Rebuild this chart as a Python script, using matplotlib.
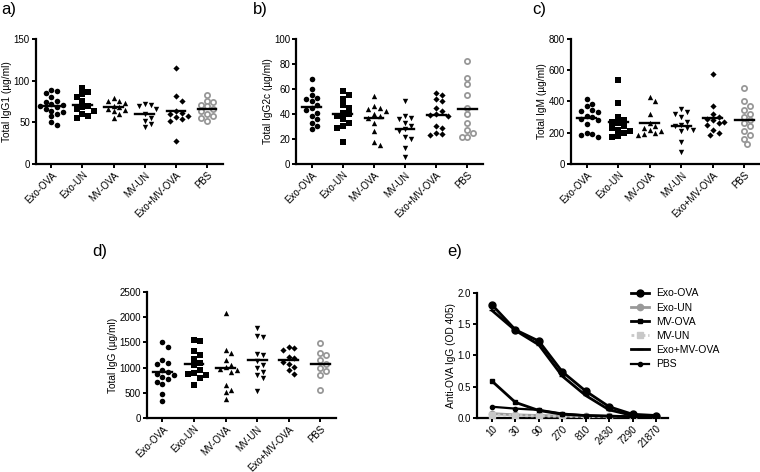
import numpy as np
import matplotlib
matplotlib.use("Agg")
import matplotlib.pyplot as plt

plt.rcParams['font.family'] = ['Liberation Sans', 'DejaVu Sans']

groups = ["Exo-OVA", "Exo-UN", "MV-OVA", "MV-UN", "Exo+MV-OVA", "PBS"]

# a) total IgG1
igg1 = [
    [88, 85, 89, 80, 76, 74, 72, 71, 70, 68, 66, 64, 62, 60, 57, 50, 47],
    [91, 86, 84, 80, 75, 70, 68, 66, 64, 60, 57, 55],
    [79, 76, 75, 73, 70, 68, 66, 65, 63, 60, 55],
    [72, 71, 69, 66, 60, 55, 52, 48, 44],
    [115, 82, 76, 63, 61, 60, 58, 56, 54, 52, 28],
    [83, 76, 74, 71, 69, 66, 63, 60, 58, 55, 51],
]
# b) total IgG2c
igg2c = [
    [68, 60, 55, 53, 52, 50, 47, 45, 43, 41, 38, 36, 33, 30, 28],
    [58, 55, 52, 47, 45, 41, 40, 38, 36, 33, 30, 29, 18],
    [54, 46, 45, 44, 42, 40, 38, 37, 33, 26, 18, 15],
    [50, 38, 37, 36, 33, 30, 28, 26, 22, 20, 13, 6],
    [57, 55, 52, 50, 45, 42, 40, 39, 38, 30, 29, 25, 24, 23],
    [82, 69, 64, 55, 45, 40, 33, 27, 25, 22, 22],
]
# c) total IgM
igm = [
    [415, 385, 370, 345, 340, 335, 310, 300, 290, 280, 255, 200, 195, 185, 170],
    [535, 390, 300, 280, 270, 260, 240, 230, 220, 210, 200, 180, 175],
    [430, 400, 320, 260, 240, 230, 220, 210, 200, 190, 185],
    [350, 330, 320, 300, 270, 250, 240, 230, 220, 210, 140, 80],
    [575, 370, 320, 300, 290, 280, 270, 260, 250, 220, 200, 185],
    [485, 400, 370, 345, 320, 300, 280, 260, 240, 210, 185, 160, 125],
]
# d) total IgG
igg = [
    [1500, 1400, 1150, 1100, 1080, 950, 920, 880, 850, 820, 780, 720, 670, 470, 340],
    [1550, 1530, 1330, 1250, 1180, 1100, 1050, 950, 900, 870, 850, 800, 650],
    [2080, 1350, 1280, 1150, 1050, 1020, 980, 950, 920, 650, 550, 520, 380],
    [1795, 1635, 1615, 1270, 1250, 1137, 1050, 984, 918, 851, 798, 538],
    [1416, 1383, 1350, 1217, 1184, 1117, 1070, 1017, 951, 871],
    [1496, 1296, 1250, 1150, 1070, 984, 938, 851, 552],
]

# e) anti-OVA titration
dilutions = ["10", "30", "90", "270", "810", "2430", "7290", "21870"]
od_exo_ova = [1.81, 1.41, 1.23, 0.74, 0.43, 0.18, 0.06, 0.04]
od_exo_un = [0.07, 0.05, 0.04, 0.03, 0.03, 0.03, 0.02, 0.02]
od_mv_ova = [0.59, 0.25, 0.12, 0.06, 0.04, 0.03, 0.02, 0.02]
od_mv_un = [0.05, 0.04, 0.03, 0.03, 0.02, 0.02, 0.02, 0.02]
od_exo_mv_ova = [1.72, 1.40, 1.17, 0.67, 0.36, 0.13, 0.04, 0.03]
od_pbs = [0.18, 0.15, 0.13, 0.07, 0.04, 0.03, 0.02, 0.02]


def swarm(vals, ymax, hpx=125.0, sp=31.2, dia=5.8):
    vals = np.asarray(vals, float)
    ys = vals / ymax * hpx
    xs = np.zeros(len(vals))
    done = []
    for i in np.argsort(-vals):
        for k in range(60):
            off = ((k + 1) // 2) * (1 if k % 2 else -1) * dia * 0.5
            if all((off - xs[j]) ** 2 + (ys[i] - ys[j]) ** 2 >= dia ** 2 for j in done):
                xs[i] = off
                break
        done.append(i)
    return xs / sp


def style_ax(ax):
    for s in ("top", "right"):
        ax.spines[s].set_visible(False)
    for s in ("left", "bottom"):
        ax.spines[s].set_linewidth(1.6)
    ax.tick_params(width=1.4, length=3, labelsize=7.0, pad=1.2)


def scatter_panel(ax, data, ymax, step, ylabel):
    for i, vals in enumerate(data):
        xo = swarm(vals, ymax)
        mk = ["o", "s", "^", "v", "D", "o"][i]
        sz = [16, 14, 15, 15, 10, 14][i]
        if i == 5:
            ax.scatter(i + xo, vals, s=sz, facecolor="white", edgecolor="#999999",
                       linewidth=1.3, zorder=3, clip_on=False)
        else:
            ax.scatter(i + xo, vals, s=sz, marker=mk, color="black", linewidth=0,
                       zorder=3, clip_on=False)
        m = np.mean(vals)
        ax.plot([i - 0.3, i + 0.3], [m, m], color="black", lw=1.7, zorder=4)
    ax.set_xlim(-0.5, 5.5)
    ax.set_ylim(0, ymax)
    ax.set_yticks(np.arange(0, ymax + 1, step))
    ax.set_xticks(range(6))
    ax.set_xticklabels(groups, rotation=45, ha="right", rotation_mode="anchor")
    ax.set_ylabel(ylabel, fontsize=7.3, labelpad=1)
    style_ax(ax)


fig = plt.figure(figsize=(7.6, 4.72), dpi=100)

axa = fig.add_axes([0.047, 0.6525, 0.246, 0.265])
axb = fig.add_axes([0.3895, 0.6525, 0.246, 0.265])
axc = fig.add_axes([0.751, 0.6525, 0.249, 0.265])
axd = fig.add_axes([0.193, 0.1144, 0.249, 0.267])
axe = fig.add_axes([0.6276, 0.1144, 0.251, 0.265])

scatter_panel(axa, igg1, 150, 50, "Total IgG1 (µg/ml)")
scatter_panel(axb, igg2c, 100, 20, "Total IgG2c (µg/ml)")
scatter_panel(axc, igm, 800, 200, "Total IgM (µg/ml)")
scatter_panel(axd, igg, 2500, 500, "Total IgG (µg/ml)")

x = np.arange(len(dilutions))
axe.plot(x, od_exo_un, color="#999999", lw=2, marker="o", ms=4.5, label="Exo-UN", zorder=3)
axe.plot(x, od_mv_un, color="#c8c8c8", lw=2, ls=(0, (1, 1)), marker="s", ms=4,
         label="MV-UN", zorder=3)
axe.plot(x, od_pbs, color="black", lw=1.6, marker="o", ms=3, label="PBS", zorder=4)
axe.plot(x, od_mv_ova, color="black", lw=2, marker="s", ms=3.5, label="MV-OVA", zorder=4)
axe.plot(x, od_exo_mv_ova, color="black", lw=2, marker="_", ms=4, label="Exo+MV-OVA", zorder=4)
axe.plot(x, od_exo_ova, color="black", lw=2, marker="o", ms=5, label="Exo-OVA", zorder=5)
axe.set_xlim(-0.64, 7.5)
axe.set_ylim(0, 2.0)
axe.set_yticks([0, 0.5, 1.0, 1.5, 2.0])
axe.set_yticklabels(["0.0", "0.5", "1.0", "1.5", "2.0"])
axe.set_xticks(x)
axe.set_xticklabels(dilutions, rotation=45, ha="right", rotation_mode="anchor")
axe.set_ylabel("Anti-OVA IgG (OD 405)", fontsize=7.3, labelpad=1)
style_ax(axe)

h, l = axe.get_legend_handles_labels()
order = ["Exo-OVA", "Exo-UN", "MV-OVA", "MV-UN", "Exo+MV-OVA", "PBS"]
hs = [h[l.index(o)] for o in order]
fig.legend(hs, order, loc="upper left", bbox_to_anchor=(0.818, 1 - 279 / 472),
           frameon=False, fontsize=7.5, handlelength=1.7, labelspacing=0.4,
           handletextpad=0.7)

fig.text(0.002, 0.995, "a)", fontsize=12, va="top")
fig.text(0.333, 0.995, "b)", fontsize=12, va="top")
fig.text(0.700, 0.995, "c)", fontsize=12, va="top")
fig.text(0.122, 0.483, "d)", fontsize=12, va="top")
fig.text(0.589, 0.483, "e)", fontsize=12, va="top")

fig.savefig("out.png", dpi=100)
